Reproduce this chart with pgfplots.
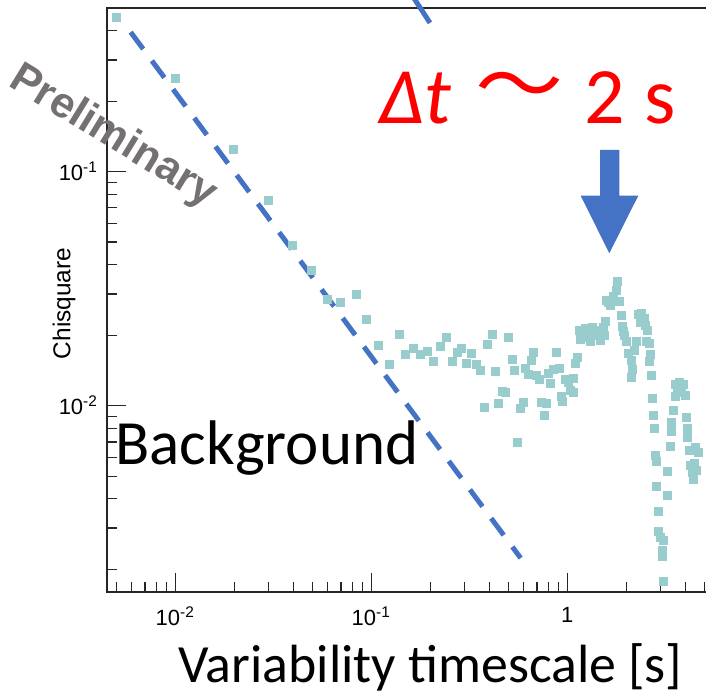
\documentclass[border=0pt]{standalone}
\usepackage{fontspec}
\setmainfont{Carlito}
\newfontfamily\helv{Liberation Sans}
\newfontfamily\cjk{Noto Sans CJK JP}
\usepackage{pgfplots}
\usepackage{pgfplotstable}
\pgfplotsset{compat=1.18}
\definecolor{pts}{RGB}{153,204,204}
\definecolor{oblue}{RGB}{68,114,196}
\definecolor{pgrey}{RGB}{118,113,113}

\pgfplotstableread{
x y
0.00498 0.458
0.00997 0.249
0.0198 0.1242
0.0300 0.0752
0.0396 0.0482
0.0492 0.0378
0.0598 0.0285
0.0695 0.02775
0.0839 0.0299
0.0940 0.0234
0.1086 0.01805
0.124 0.0150
0.139 0.0202
0.149 0.01658
0.164 0.01759
0.179 0.01658
0.194 0.01713
0.207 0.01542
0.224 0.01787
0.2425 0.01951
0.260 0.01542
0.2736 0.01696
0.287 0.01759
0.3067 0.01518
0.324 0.01674
0.342 0.01503
0.3586 0.01414
0.3906 0.01824
0.414 0.0202
0.4276 0.01407
0.378 0.00985
0.447 0.01024
0.467 0.01156
0.485 0.01139
0.500 0.0196
0.522 0.01583
0.540 0.01418
0.558 0.00698
0.576 0.00976
0.596 0.01032
0.614 0.01447
0.632 0.01363
0.654 0.01563
0.674 0.01691
0.698 0.01353
0.722 0.01293
0.737 0.0103
0.762 0.00907
0.782 0.01024
0.800 0.0137
0.816 0.01247
0.853 0.01428
0.883 0.01691
0.9135 0.01445
0.932 0.01093
0.947 0.01044
0.973 0.0130
1.008 0.01263
1.038 0.01161
1.069 0.01144
1.079 0.01309
1.097 0.01518
1.127 0.01607
1.147 0.02106
1.189 0.01966
1.231 0.02148
1.275 0.02025
1.306 0.0189
1.337 0.02169
1.385 0.02005
1.434 0.02106
1.469 0.01909
1.521 0.02169
1.539 0.02005
1.161 0.01928
1.557 0.02286
1.589 0.02829
1.623 0.02775
1.652 0.02693
1.717 0.02923
1.786 0.03122
1.799 0.03388
1.846 0.02783
1.879 0.02441
1.901 0.02176
1.924 0.02086
1.953 0.02005
2.009 0.01877
2.047 0.01674
2.126 0.01568
2.151 0.01435
2.131 0.01322
2.202 0.01721
2.242 0.0189
2.295 0.02465
2.377 0.0249
2.462 0.0237
2.349 0.02279
2.491 0.02213
2.550 0.02106
2.521 0.0189
2.627 0.01848
2.642 0.01655
2.620 0.01542
2.673 0.01353
2.715 0.01073
2.747 0.00908
2.779 0.0080
2.802 0.00616
2.835 0.00576
2.858 0.00451
2.902 0.00352
2.912 0.00289
2.972 0.00275
3.089 0.00267
3.053 0.00242
3.067 0.00226
3.103 0.00177
3.257 0.00522
3.237 0.00415
3.342 0.00668
3.381 0.0078
3.381 0.00846
3.474 0.00959
3.544 0.01238
3.715 0.01263
3.894 0.01238
3.629 0.01167
3.803 0.01144
3.986 0.01111
3.565 0.0110
4.067 0.0089
4.095 0.0080
4.115 0.00731
4.193 0.00642
4.482 0.00666
4.660 0.00634
4.227 0.00558
4.430 0.00569
4.327 0.00521
4.535 0.00531
4.378 0.00486
}\chidata

\begin{document}
\begin{tikzpicture}
\begin{axis}[at={(53.5pt,51.5pt)}, anchor=south west, scale only axis,
  width=302.5pt, height=292pt,
  xmode=log, ymode=log,
  xmin=0.004482, xmax=5.474, ymin=0.0016, ymax=0.5,
  clip=false,
  axis line style={line width=0.7pt, black!85},
  major tick style={line width=0.6pt, black!85},
  minor tick style={line width=0.6pt, black!85},
  major tick length=9.5pt, minor tick length=5pt,
  tick align=inside, tick pos=left,
  xtick={0.01,0.1,1},
  xticklabels={10\textsuperscript{-2},10\textsuperscript{-1},1},
  minor xtick={0.005,0.006,0.007,0.008,0.009,0.02,0.03,0.04,0.05,0.06,0.07,0.08,0.09,0.2,0.3,0.4,0.5,0.6,0.7,0.8,0.9,2,3,4,5},
  ytick={0.01,0.1},
  yticklabels={10\textsuperscript{-2},10\textsuperscript{-1}},
  minor ytick={0.002,0.003,0.004,0.005,0.006,0.007,0.008,0.009,0.02,0.03,0.04,0.05,0.06,0.07,0.08,0.09,0.2,0.3,0.4},
  tick label style={font=\helv\fontsize{11}{12}\selectfont},
  xticklabel style={yshift=-4pt},
  yticklabel style={xshift=-1pt},
]
\addplot[only marks, mark=square*, mark size=2pt, mark options={draw=pts, fill=pts}] table[x=x,y=y] {\chidata};
\addplot[oblue, line width=2.5pt, dash pattern=on 10.5pt off 7.3pt] coordinates {(0.00592,0.3943) (0.5783,0.002234)};
\addplot[oblue, line width=2.5pt] coordinates {(0.1548,0.5977) (0.1993,0.432)};
\end{axis}

\begin{scope}[x=0.5pt,y=-0.5pt,shift={(0pt,347.5pt)}]
\fill[oblue] (600,150) -- (619.3,150) -- (619.3,195.7) -- (638.3,195.7) -- (609.3,253.3) -- (580.7,195.7) -- (600,195.7) -- cycle;
\node[font=\helv\fontsize{12.2}{14}\selectfont, rotate=90] at (64,303.5) {Chisquare};
\node[rotate=-31.5, font=\helv\bfseries\fontsize{21.5}{24}\selectfont, text=pgrey] at (113,137) {Preliminary};
\node[font=\fontsize{31.5}{36}\selectfont, anchor=base west, inner sep=0pt] at (115,465) {Background};
\node[font=\fontsize{26.9}{30}\selectfont, anchor=base west, inner sep=0pt] at (178,683) {Variability timescale [s]};
\node[text=red, font=\fontsize{40}{44}\selectfont\itshape, anchor=base west, inner sep=0pt] at (379,123.3) {Δt};
\node[text=red, font=\fontsize{40}{44}\selectfont\cjk, anchor=center, inner sep=0pt, xscale=1.1] at (519,93) {～};
\node[text=red, font=\fontsize{40}{44}\selectfont, anchor=base west, inner sep=0pt] at (584,123.3) {2};
\node[text=red, font=\fontsize{40}{44}\selectfont, anchor=base west, inner sep=0pt] at (644,123.3) {s};
\end{scope}

\pgfresetboundingbox
\useasboundingbox (0,0) rectangle (353pt,347.5pt);
\end{tikzpicture}
\end{document}
